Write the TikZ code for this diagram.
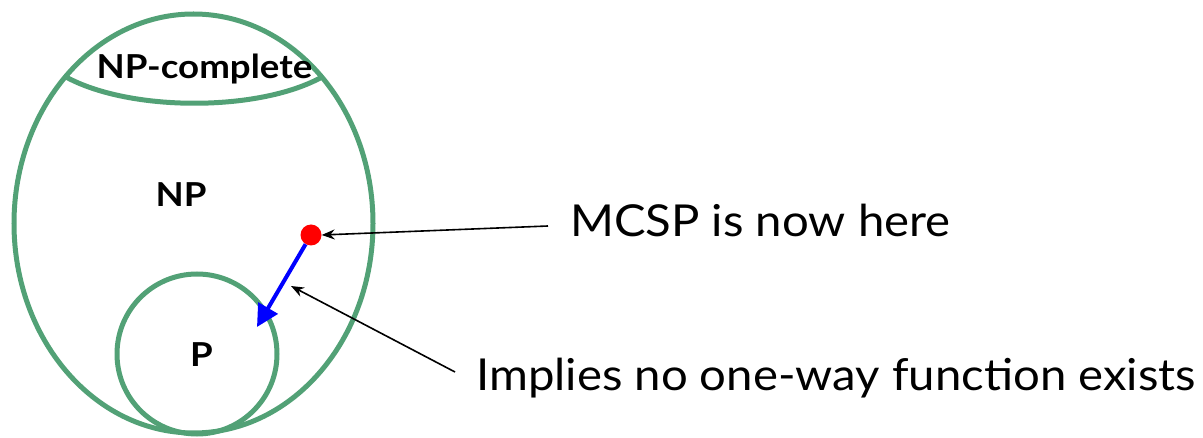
\documentclass[tikz,border=0pt]{standalone}
\usepackage{fontspec}
\setmainfont{Lato}[FakeStretch=1.075, BoldFeatures={FakeStretch=1.11}]
\usetikzlibrary{arrows.meta,shapes.geometric}
\definecolor{setgreen}{RGB}{82,161,118}
\tikzset{
  setline/.style={draw=setgreen, line width=5pt},
  setlabel/.style={font=\fontsize{33}{36}\selectfont\bfseries, anchor=base, inner sep=0pt},
  note/.style={font=\fontsize{44}{48}\selectfont, anchor=base west, inner sep=0pt},
  pointer/.style={line width=1.6pt, -{Stealth[length=13pt,width=10pt]}},
}
\begin{document}
\begin{tikzpicture}[x=1pt,y=-1pt]
\useasboundingbox (0,0) rectangle (1203,438);
% the class NP
\node[setline, ellipse, minimum width=359pt, minimum height=419pt, inner sep=0pt] (np) at (193.5,223.5) {};
% the NP-complete cap
\coordinate (capL) at (66,77);
\coordinate (capR) at (322,77);
\draw[setgreen, line width=5pt] (capL) .. controls (130,112) and (259,112) .. (capR);
% the class P
\node[setline, circle, minimum size=160pt, inner sep=0pt] (p) at (197,354) {};
% labels
\node[setlabel] (npclabel) at (204.5,79) {NP-complete};
\node[setlabel] (nplabel) at (181,207) {NP};
\node[setlabel] (plabel) at (201.5,367) {P};
% MCSP
\node[circle, fill=red, minimum size=21pt, inner sep=0pt] (dot) at (311,235) {};
\coordinate (ptip) at (257,327);
\draw[blue, line width=4pt, -{Triangle[length=22pt,width=22pt]}] (dot) -- (ptip);
% notes
\node[note] (mcsp) at (570,237) {MCSP is now here};
\node[note] (owf) at (476,391) {Implies no one-way function exists};
\coordinate (mcspend) at (548,226);
\coordinate (owfend) at (455,372);
\coordinate (arrowtip) at (291,286);
\draw[pointer] (mcspend) -- (dot.east);
\draw[pointer] (owfend) -- (arrowtip);
\end{tikzpicture}
\end{document}
